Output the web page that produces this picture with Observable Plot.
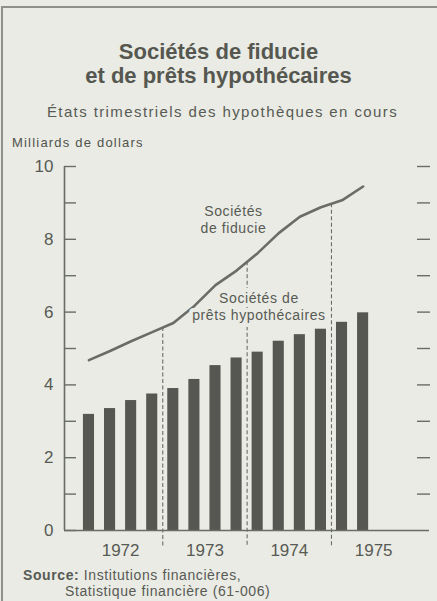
<!DOCTYPE html>
<html><head><meta charset="utf-8">
<script src="https://cdn.jsdelivr.net/npm/d3@7"></script>
<script src="https://cdn.jsdelivr.net/npm/@observablehq/plot@0.6"></script>
<style>
html,body{margin:0;padding:0;}
body{width:437px;height:601px;overflow:hidden;background:#e9ebe4;position:relative;font-family:"Liberation Sans",Arial,sans-serif;color:#585a54;}
.frame{position:absolute;left:1px;top:6px;width:440px;height:600px;border-top:2px solid #8d9189;border-left:2px solid #8d9189;}
.t{position:absolute;white-space:nowrap;}
.center{left:0;width:437px;text-align:center;}
#chart{position:absolute;left:0;top:150px;}
</style></head><body>
<div class="frame"></div>
<div class="t center" style="top:41.4px;font-size:22px;line-height:22px;font-weight:bold;color:#555750;">Sociétés de fiducie</div>
<div class="t center" style="top:64.9px;font-size:22px;line-height:22px;font-weight:bold;color:#555750;">et de prêts hypothécaires</div>
<div class="t center" style="top:104.3px;font-size:15px;line-height:15px;letter-spacing:1.4px;padding-left:4px;">États trimestriels des hypothèques en cours</div>
<div class="t" style="left:12px;top:136px;font-size:13px;line-height:13px;letter-spacing:1.2px;color:#50524c;">Milliards de dollars</div>
<div id="chart"></div>
<div class="t" style="left:23px;top:568px;font-size:14px;line-height:14px;letter-spacing:0.6px;"><b>Source:</b> Institutions financières,</div>
<div class="t" style="left:65px;top:584px;font-size:14px;line-height:14px;letter-spacing:0.6px;">Statistique financière (61-006)</div>
<script>
// Quarters (trimestres)
const periods = ["1972 T1","1972 T2","1972 T3","1972 T4",
                 "1973 T1","1973 T2","1973 T3","1973 T4",
                 "1974 T1","1974 T2","1974 T3","1974 T4",
                 "1975 T1","1975 T2"];
// Sociétés de prêts hypothécaires (barres), milliards de dollars
const mortgageLoanCos = [3.19, 3.35, 3.57, 3.75, 3.90, 4.15, 4.53, 4.74, 4.90, 5.20, 5.38, 5.53, 5.72, 5.98];
// Sociétés de fiducie (ligne), milliards de dollars
const trustCos = [4.68, 4.93, 5.20, 5.45, 5.70, 6.17, 6.74, 7.14, 7.62, 8.17, 8.62, 8.88, 9.07, 9.45];
// Year labels and y ticks
const years = [1972, 1973, 1974, 1975];
const yLabelTicks = [0, 2, 4, 6, 8, 10];
const yMinorTicks = [0, 1, 2, 3, 4, 5, 6, 7, 8, 9, 10];

const data = periods.map((p, i) => {
  const [y, q] = p.split(" T").map(Number);
  const t0 = y + (q - 1) / 4;
  return {t0, t1: t0 + 0.25, tm: t0 + 0.125, bar: mortgageLoanCos[i], line: trustCos[i]};
});
// year boundaries: dashed lines start on the trust-company line
const boundaries = years.slice(1).map(y => {
  const a = data.find(d => d.t1 === y), b = data.find(d => d.t0 === y);
  return {t: y, v: (a.line + b.line) / 2};
});

const ink = "#585a54";
const bg = "#e9ebe4";
const xDomain = [1971.835, 1976.162];

const chart = Plot.plot({
  width: 437,
  height: 420,
  marginLeft: 64,
  marginRight: 8,
  marginTop: 16,
  marginBottom: 40,
  style: {fontFamily: "'Liberation Sans', Arial, sans-serif", background: "transparent", color: ink},
  x: {type: "linear", domain: xDomain},
  y: {domain: [0, 10]},
  marks: [
    Plot.rectY(data, {x1: "t0", x2: "t1", y: "bar", insetLeft: 5, insetRight: 5, fill: "#565752"}),
    Plot.ruleX(boundaries, {x: "t", y1: "v", y2: 0, insetBottom: -17, stroke: "#6a6c66", strokeWidth: 1.1, strokeDasharray: "4,2.5"}),
    Plot.line(data, {x: "tm", y: "line", stroke: "#6a6c66", strokeWidth: 2.6}),
    Plot.ruleX([xDomain[0]], {stroke: "#6a6c66", strokeWidth: 1.6}),
    Plot.ruleY([0], {stroke: "#6a6c66", strokeWidth: 1.6}),
    Plot.axisY(yMinorTicks, {anchor: "left", tickSize: 12, dx: 12, tickFormat: () => "", stroke: "#6a6c66", strokeWidth: 1.4}),
    Plot.axisY(yMinorTicks.slice(1), {anchor: "right", tickSize: 13, dx: -13, tickFormat: () => "", stroke: "#6a6c66", strokeWidth: 1.4}),
    Plot.axisY(yLabelTicks, {anchor: "left", tickSize: 0, tickPadding: 11, fontSize: 17, fill: ink}),
    Plot.axisX(years.map(y => y + 0.5), {anchor: "bottom", tickSize: 0, tickPadding: 13, fontSize: 17, fill: ink, tickFormat: d => String(Math.floor(d))}),
    Plot.text(["Sociétés\nde fiducie"], {x: 1973.838, y: 8.16, lineAnchor: "bottom", lineHeight: 1.22, fontSize: 14, fill: ink, textAnchor: "middle"}),
    Plot.text(["Sociétés de\nprêts hypothécaires"], {x: 1974.14, y: 5.77, lineAnchor: "bottom", lineHeight: 1.22, fontSize: 14, fill: ink, textAnchor: "middle", stroke: bg, strokeWidth: 8})
  ]
});
d3.select(chart).selectAll("g[aria-label='text'] text").attr("letter-spacing", "0.6px");
document.getElementById("chart").appendChild(chart);
</script>
</body></html>
